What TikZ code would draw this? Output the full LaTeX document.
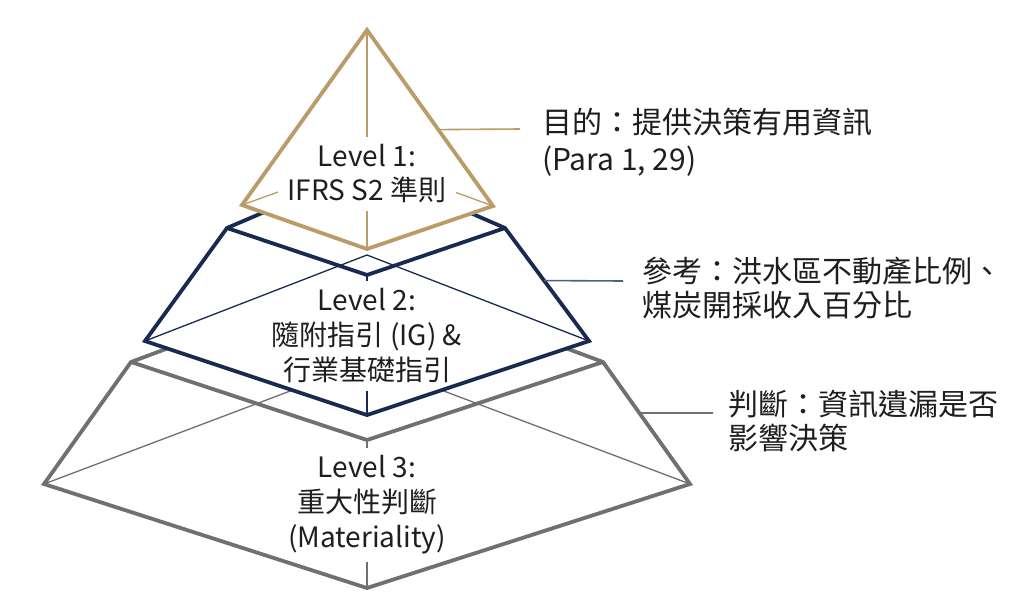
\documentclass[tikz,border=0pt]{standalone}
\usepackage{fontspec}
\setmainfont{Noto Sans CJK TC}
\usetikzlibrary{calc}
\definecolor{goldc}{RGB}{186,156,104}
\definecolor{navyc}{RGB}{24,42,82}
\definecolor{grayc}{RGB}{112,112,112}
\definecolor{txtc}{RGB}{30,30,30}
\definecolor{navyl}{RGB}{80,96,124}
\begin{document}
\begin{tikzpicture}[x=1pt,y=-1pt,
  edge/.style={line width=3.8pt, line join=miter},
  hid/.style={line width=1.3pt},
  lead/.style={line width=1.6pt},
  lvltext/.style={fill=white, align=center, text=txtc, inner xsep=10pt, inner ysep=8pt,
    font=\fontsize{28}{35}\selectfont},
  sidetext/.style={anchor=north west, align=left, text=txtc, inner sep=0pt,
    font=\fontsize{30}{34}\selectfont}]
\useasboundingbox (0,0) rectangle (1023,608);
\fill[white] (0,0) rectangle (1023,608);

% ---------- Level 3 (gray) ----------
\coordinate (gTL) at (131,362);
\coordinate (gTR) at (603,362);
\coordinate (gTB) at (367,274);
\coordinate (gTF) at (367,440);
\coordinate (gBL) at (44,484);
\coordinate (gBR) at (690,484);
\coordinate (gBF) at (367,588);
\coordinate (gBB) at (367,362);
\fill[white] (gTL) -- (gTB) -- (gTR) -- (gBR) -- (gBF) -- (gBL) -- cycle;
\draw[hid, grayc] (gBL) -- (gBB) -- (gBR);
\draw[hid, grayc] (gTF) -- (gBF);
\node[lvltext] (t3) at (367,505) {Level 3:\\重大性判斷\\(Materiality)};
\draw[edge, grayc] (gTL) -- (gTB) -- (gTR) -- (gBR) -- (gBF) -- (gBL) -- cycle;
\draw[edge, grayc] (gTL) -- (gTF) -- (gTR);

% ---------- Level 2 (navy) ----------
\coordinate (nTL) at (227,228);
\coordinate (nTR) at (505,228);
\coordinate (nTB) at (367,168);
\coordinate (nTF) at (367,275);
\coordinate (nBL) at (145,341);
\coordinate (nBR) at (589,341);
\coordinate (nBF) at (367,415);
\coordinate (nBB) at (367,255);
\fill[white] (nTL) -- (nTB) -- (nTR) -- (nBR) -- (nBF) -- (nBL) -- cycle;
\draw[hid, navyc] (nTF) -- (nBF);
\node[lvltext, inner xsep=4pt] (t2) at (367,336) {Level 2:\\隨附指引 (IG) \&\\行業基礎指引};
\draw[hid, navyc] (nBL) -- (nBB) -- (nBR);
\draw[edge, navyc] (nTL) -- (nTB) -- (nTR) -- (nBR) -- (nBF) -- (nBL) -- cycle;
\draw[edge, navyc] (nTL) -- (nTF) -- (nTR);

% ---------- Level 1 (gold) ----------
\coordinate (oA) at (367,30);
\coordinate (oL) at (242,205);
\coordinate (oR) at (493,206);
\coordinate (oF) at (367,249);
\coordinate (oB) at (367,160);
\fill[white] (oA) -- (oR) -- (oF) -- (oL) -- cycle;
\draw[hid, goldc] (oA) -- (oF);
\draw[hid, goldc] (oL) -- (oB) -- (oR);
\node[lvltext, font=\fontsize{28}{34}\selectfont] (t1) at (367,174) {Level 1:\\IFRS S2 準則};
\draw[edge, goldc] (oA) -- (oR) -- (oF) -- (oL) -- cycle;

% ---------- Side labels and leaders ----------
\node[sidetext] (s1) at (542,108) {目的：提供決策有用資訊\\[3pt](Para 1, 29)};
\node[sidetext] (s2) at (642,257) {參考：洪水區不動產比例、\\煤炭開採收入百分比};
\node[sidetext] (s3) at (728,390) {判斷：資訊遺漏是否\\影響決策};

\coordinate (l1a) at ($(oA)!0.566!(oR)$);
\coordinate (l1b) at (520,129);
\coordinate (l2a) at ($(nTR)!0.465!(nBR)$);
\coordinate (l2b) at (623,281);
\coordinate (l3a) at ($(gTR)!0.418!(gBR)$);
\coordinate (l3b) at (713,413);
\draw[lead, goldc] (l1a) -- (l1b);
\draw[lead, navyl] (l2a) -- (l2b);
\draw[lead, grayc] (l3a) -- (l3b);
\end{tikzpicture}
\end{document}
